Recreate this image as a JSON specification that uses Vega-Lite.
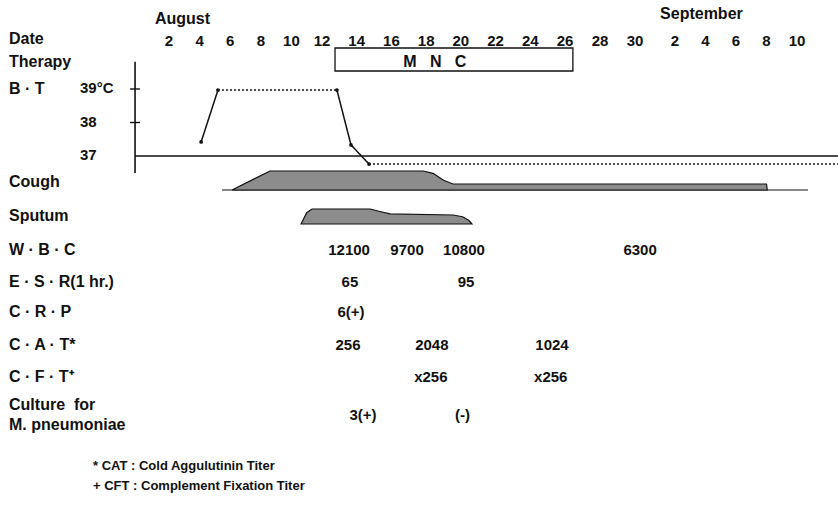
{
  "$schema": "https://vega.github.io/schema/vega-lite/v6.json",
  "width": 838,
  "height": 512,
  "padding": 0,
  "autosize": "none",
  "background": "white",
  "config": {
    "view": {"stroke": null},
    "axis": {"disable": true},
    "text": {"font": "Liberation Sans, Arial, sans-serif", "fontWeight": "bold", "fontSize": 15, "baseline": "middle", "color": "#111"},
    "rule": {"color": "#111", "strokeWidth": 1.3},
    "line": {"color": "#111", "strokeWidth": 1.5}
  },
  "datasets": {
    "tempAxis": [
      {"temp": 39, "label": "39°C"},
      {"temp": 38, "label": "38"},
      {"temp": 37, "label": "37"}
    ],
    "btLine": [
      {"seg": 1, "kind": "measured", "day": 4.1, "temp": 37.42},
      {"seg": 1, "kind": "measured", "day": 5.2, "temp": 38.97},
      {"seg": 2, "kind": "sustained", "day": 5.2, "temp": 38.97},
      {"seg": 2, "kind": "sustained", "day": 12.86, "temp": 38.97},
      {"seg": 3, "kind": "measured", "day": 12.86, "temp": 38.97},
      {"seg": 3, "kind": "measured", "day": 13.67, "temp": 37.33},
      {"seg": 3, "kind": "measured", "day": 14.71, "temp": 36.76},
      {"seg": 4, "kind": "sustained", "day": 14.71, "temp": 36.76},
      {"seg": 4, "kind": "sustained", "day": 43.69, "temp": 36.76}
    ],
    "btPoints": [
      {"day": 4.1, "temp": 37.42},
      {"day": 5.2, "temp": 38.97},
      {"day": 12.86, "temp": 38.97},
      {"day": 13.67, "temp": 37.33},
      {"day": 14.71, "temp": 36.76}
    ],
    "months": [
      {"label": "August", "day": 1.08, "row": -0.714},
      {"label": "September", "day": 31.88, "row": -0.873}
    ],
    "dates": [
      {"day": 2, "label": "2"}, {"day": 4, "label": "4"}, {"day": 6, "label": "6"},
      {"day": 8, "label": "8"}, {"day": 10, "label": "10"}, {"day": 12, "label": "12"},
      {"day": 14, "label": "14"}, {"day": 16, "label": "16"}, {"day": 18, "label": "18"},
      {"day": 20, "label": "20"}, {"day": 22, "label": "22"}, {"day": 24, "label": "24"},
      {"day": 26, "label": "26"}, {"day": 28, "label": "28"}, {"day": 30, "label": "30"},
      {"day": 33, "label": "2"}, {"day": 35, "label": "4"}, {"day": 37, "label": "6"},
      {"day": 39, "label": "8"}, {"day": 41, "label": "10"}
    ],
    "therapy": [
      {"drug": "M\u00a0\u00a0\u00a0N\u00a0\u00a0\u00a0C", "start": 12.75, "end": 26.45}
    ],
    "rows": [
      {"label": "Date", "row": -0.05},
      {"label": "Therapy", "row": 0.667},
      {"label": "B · T", "row": 1.524},
      {"label": "Cough", "row": 4.476},
      {"label": "Sputum", "row": 5.556},
      {"label": "W · B · C", "row": 6.635},
      {"label": "E · S · R(1 hr.)", "row": 7.65},
      {"label": "C · R · P", "row": 8.6},
      {"label": "C · A · T*", "row": 9.65},
      {"label": "C · F · T⁺", "row": 10.667},
      {"label": "Culture\u00a0\u00a0for", "row": 11.556},
      {"label": "M. pneumoniae", "row": 12.19}
    ],
    "cough": [
      {"day": 6.12, "top": 4.73},
      {"day": 8.6, "top": 4.127},
      {"day": 17.82, "top": 4.127},
      {"day": 18.4, "top": 4.2},
      {"day": 19.0, "top": 4.42},
      {"day": 19.55, "top": 4.54},
      {"day": 39.0, "top": 4.54},
      {"day": 39.05, "top": 4.73}
    ],
    "sputum": [
      {"day": 10.63, "top": 5.81},
      {"day": 11.0, "top": 5.45},
      {"day": 11.35, "top": 5.333},
      {"day": 14.77, "top": 5.333},
      {"day": 15.4, "top": 5.42},
      {"day": 15.92, "top": 5.49},
      {"day": 19.55, "top": 5.524},
      {"day": 20.1, "top": 5.58},
      {"day": 20.45, "top": 5.69},
      {"day": 20.64, "top": 5.81}
    ],
    "labs": [
      {"test": "WBC", "day": 13.56, "row": 6.635, "value": "12100"},
      {"test": "WBC", "day": 16.9, "row": 6.635, "value": "9700"},
      {"test": "WBC", "day": 20.18, "row": 6.635, "value": "10800"},
      {"test": "WBC", "day": 30.38, "row": 6.635, "value": "6300"},
      {"test": "ESR", "day": 13.61, "row": 7.65, "value": "65"},
      {"test": "ESR", "day": 20.3, "row": 7.65, "value": "95"},
      {"test": "CRP", "day": 13.67, "row": 8.6, "value": "6(+)"},
      {"test": "CAT", "day": 13.5, "row": 9.65, "value": "256"},
      {"test": "CAT", "day": 18.33, "row": 9.65, "value": "2048"},
      {"test": "CAT", "day": 25.25, "row": 9.65, "value": "1024"},
      {"test": "CFT", "day": 18.27, "row": 10.667, "value": "x256"},
      {"test": "CFT", "day": 25.18, "row": 10.667, "value": "x256"},
      {"test": "Culture", "day": 14.36, "row": 11.87, "value": "3(+)"},
      {"test": "Culture", "day": 20.1, "row": 11.87, "value": "(-)"}
    ],
    "notes": [
      {"row": 13.49, "label": "* CAT : Cold Aggulutinin Titer"},
      {"row": 14.127, "label": "+ CFT : Complement Fixation Titer"}
    ]
  },
  "layer": [
    {
      "layer": [
        {
          "data": {"values": [{"part": "axis"}]},
          "mark": {"type": "rule", "strokeWidth": 1.6},
          "encoding": {"x": {"datum": -0.22, "type": "quantitative", "axis": null}, "y": {"datum": 39.81, "type": "quantitative", "axis": null}, "y2": {"datum": 36.49}}
        },
        {
          "data": {"name": "tempAxis"},
          "transform": [{"filter": "datum.temp >= 38"}],
          "mark": {"type": "rule", "strokeWidth": 1.4},
          "encoding": {
            "x": {"datum": -0.55, "type": "quantitative", "axis": null},
            "x2": {"datum": 0.1},
            "y": {"field": "temp", "type": "quantitative", "axis": null, "scale": {"domain": [26.373, 41.657], "nice": false, "zero": false}}
          }
        },
        {
          "data": {"name": "tempAxis"},
          "mark": {"type": "text", "align": "left", "dy": -1},
          "encoding": {
            "x": {"datum": -3.82, "type": "quantitative", "axis": null},
            "y": {"field": "temp", "type": "quantitative", "axis": null, "scale": {"domain": [26.373, 41.657], "nice": false, "zero": false}},
            "text": {"field": "label"}
          }
        },
        {
          "data": {"name": "tempAxis"},
          "transform": [{"filter": "datum.temp == 37"}],
          "mark": {"type": "rule", "strokeWidth": 1.6},
          "encoding": {
            "x": {"datum": -0.22, "type": "quantitative", "axis": null},
            "x2": {"datum": 43.69},
            "y": {"field": "temp", "type": "quantitative", "axis": null, "scale": {"domain": [26.373, 41.657], "nice": false, "zero": false}}
          }
        },
        {
          "data": {"name": "btLine"},
          "mark": {"type": "line"},
          "encoding": {
            "x": {"field": "day", "type": "quantitative", "axis": null, "scale": {"domain": [-9.05, 2, 12, 26, 30, 33, 41, 43.69], "range": [0, 169, 322, 565, 635, 675, 797, 838], "nice": false, "zero": false}},
            "y": {"field": "temp", "type": "quantitative", "axis": null, "scale": {"domain": [26.373, 41.657], "nice": false, "zero": false}},
            "detail": {"field": "seg"},
            "strokeDash": {"field": "kind", "type": "nominal", "legend": null, "scale": {"domain": ["measured", "sustained"], "range": [[1, 0], [2, 2]]}}
          }
        },
        {
          "data": {"name": "btPoints"},
          "mark": {"type": "circle", "size": 14, "color": "#111", "opacity": 1},
          "encoding": {
            "x": {"field": "day", "type": "quantitative", "axis": null, "scale": {"domain": [-9.05, 2, 12, 26, 30, 33, 41, 43.69], "range": [0, 169, 322, 565, 635, 675, 797, 838], "nice": false, "zero": false}},
            "y": {"field": "temp", "type": "quantitative", "axis": null, "scale": {"domain": [26.373, 41.657], "nice": false, "zero": false}}
          }
        }
      ]
    },
    {
      "layer": [
        {
          "data": {"name": "months"},
          "mark": {"type": "text", "align": "left", "fontSize": 16},
          "encoding": {
            "x": {"field": "day", "type": "quantitative", "axis": null, "scale": {"domain": [-9.05, 2, 12, 26, 30, 33, 41, 43.69], "range": [0, 169, 322, 565, 635, 675, 797, 838], "nice": false, "zero": false}},
            "y": {"field": "row", "type": "quantitative", "axis": null, "scale": {"domain": [-1.3016, 14.952], "reverse": true, "nice": false, "zero": false}},
            "text": {"field": "label"}
          }
        },
        {
          "data": {"name": "dates"},
          "mark": {"type": "text", "align": "center"},
          "encoding": {
            "x": {"field": "day", "type": "quantitative", "axis": null, "scale": {"domain": [-9.05, 2, 12, 26, 30, 33, 41, 43.69], "range": [0, 169, 322, 565, 635, 675, 797, 838], "nice": false, "zero": false}},
            "y": {"datum": 0, "type": "quantitative", "axis": null},
            "text": {"field": "label"}
          }
        },
        {
          "data": {"name": "therapy"},
          "mark": {"type": "rect", "fill": "white", "stroke": "#111", "strokeWidth": 1.3},
          "encoding": {
            "x": {"field": "start", "type": "quantitative", "axis": null},
            "x2": {"field": "end"},
            "y": {"datum": 0.222, "type": "quantitative", "axis": null},
            "y2": {"datum": 0.952}
          }
        },
        {
          "data": {"name": "therapy"},
          "mark": {"type": "text", "align": "center", "fontSize": 16},
          "encoding": {
            "x": {"datum": 18.5, "type": "quantitative", "axis": null},
            "y": {"datum": 0.667, "type": "quantitative", "axis": null},
            "text": {"field": "drug"}
          }
        },
        {
          "data": {"name": "rows"},
          "mark": {"type": "text", "align": "left", "fontSize": 16},
          "encoding": {
            "x": {"datum": -8.46, "type": "quantitative", "axis": null},
            "y": {"field": "row", "type": "quantitative", "axis": null, "scale": {"domain": [-1.3016, 14.952], "reverse": true, "nice": false, "zero": false}},
            "text": {"field": "label"}
          }
        },
        {
          "data": {"values": [{"part": "cough baseline"}]},
          "mark": {"type": "rule", "strokeWidth": 1.2},
          "encoding": {
            "x": {"datum": 5.46, "type": "quantitative", "axis": null},
            "x2": {"datum": 41.72},
            "y": {"datum": 4.73, "type": "quantitative", "axis": null}
          }
        },
        {
          "data": {"name": "cough"},
          "mark": {"type": "area", "fill": "#8c8c8c", "stroke": "#111", "strokeWidth": 1.2, "opacity": 1},
          "encoding": {
            "x": {"field": "day", "type": "quantitative", "axis": null, "scale": {"domain": [-9.05, 2, 12, 26, 30, 33, 41, 43.69], "range": [0, 169, 322, 565, 635, 675, 797, 838], "nice": false, "zero": false}},
            "y": {"field": "top", "type": "quantitative", "axis": null, "scale": {"domain": [-1.3016, 14.952], "reverse": true, "nice": false, "zero": false}},
            "y2": {"datum": 4.73}
          }
        },
        {
          "data": {"name": "sputum"},
          "mark": {"type": "area", "fill": "#8c8c8c", "stroke": "#111", "strokeWidth": 1.2, "opacity": 1},
          "encoding": {
            "x": {"field": "day", "type": "quantitative", "axis": null, "scale": {"domain": [-9.05, 2, 12, 26, 30, 33, 41, 43.69], "range": [0, 169, 322, 565, 635, 675, 797, 838], "nice": false, "zero": false}},
            "y": {"field": "top", "type": "quantitative", "axis": null, "scale": {"domain": [-1.3016, 14.952], "reverse": true, "nice": false, "zero": false}},
            "y2": {"datum": 5.81}
          }
        },
        {
          "data": {"name": "labs"},
          "mark": {"type": "text", "align": "center"},
          "encoding": {
            "x": {"field": "day", "type": "quantitative", "axis": null, "scale": {"domain": [-9.05, 2, 12, 26, 30, 33, 41, 43.69], "range": [0, 169, 322, 565, 635, 675, 797, 838], "nice": false, "zero": false}},
            "y": {"field": "row", "type": "quantitative", "axis": null, "scale": {"domain": [-1.3016, 14.952], "reverse": true, "nice": false, "zero": false}},
            "text": {"field": "value"}
          }
        },
        {
          "data": {"name": "notes"},
          "mark": {"type": "text", "align": "left", "fontSize": 13},
          "encoding": {
            "x": {"datum": -2.97, "type": "quantitative", "axis": null},
            "y": {"field": "row", "type": "quantitative", "axis": null, "scale": {"domain": [-1.3016, 14.952], "reverse": true, "nice": false, "zero": false}},
            "text": {"field": "label"}
          }
        }
      ]
    }
  ],
  "resolve": {"scale": {"y": "independent"}}
}
